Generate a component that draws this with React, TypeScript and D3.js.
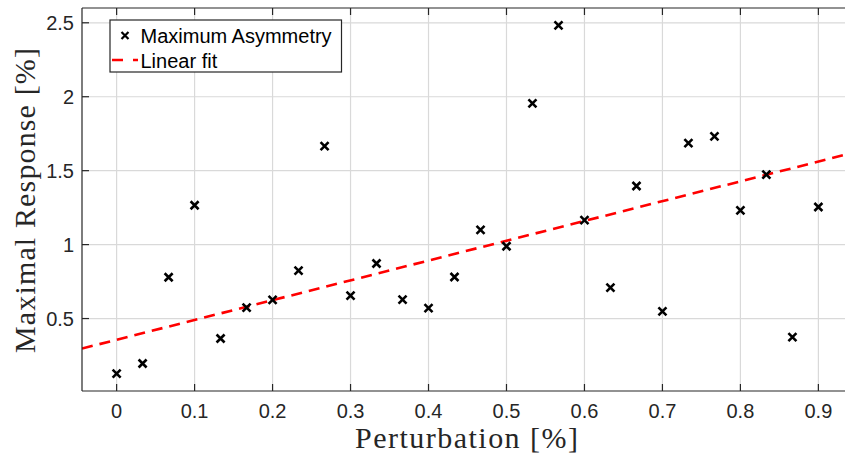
import { useMemo } from "react";
import { scaleLinear, line } from "d3";

const WIDTH = 845;
const HEIGHT = 454;
const PLOT = { left: 82, top: 8, right: 853, bottom: 391 };

const perturbation = [
  0, 0.0333, 0.0667, 0.1, 0.1333, 0.1667, 0.2, 0.2333, 0.2667, 0.3, 0.3333, 0.3667, 0.4, 0.4333,
  0.4667, 0.5, 0.5333, 0.5667, 0.6, 0.6333, 0.6667, 0.7, 0.7333, 0.7667, 0.8, 0.8333, 0.8667, 0.9
];
const maxAsymmetry = [
  0.128, 0.196, 0.779, 1.266, 0.365, 0.574, 0.626, 0.824, 1.666, 0.655, 0.872, 0.628, 0.57, 0.781,
  1.1, 0.989, 1.955, 2.482, 1.165, 0.709, 1.396, 0.549, 1.686, 1.732, 1.232, 1.473, 0.374, 1.254
];
// linear fit line as drawn in the figure (ends at the axis limits)
const fitX = [-0.0444, 0.9444];
const fitY = [0.297, 1.621];

const xTicks = [0, 0.1, 0.2, 0.3, 0.4, 0.5, 0.6, 0.7, 0.8, 0.9];
const yTicks = [0.5, 1, 1.5, 2, 2.5];
const xDomain = [-0.0444, 0.9444];
const yDomain = [0.01, 2.6];

const TICK_FONT = "Liberation Sans, Arial, sans-serif";
const LABEL_FONT = "Liberation Serif, Times New Roman, serif";

function Cross({ x, y, size = 4, width = 2.6 }: { x: number; y: number; size?: number; width?: number }) {
  return (
    <path
      d={`M${x - size},${y - size}L${x + size},${y + size}M${x - size},${y + size}L${x + size},${y - size}`}
      stroke="#000"
      strokeWidth={width}
      fill="none"
    />
  );
}

export default function App() {
  const x = useMemo(() => scaleLinear().domain(xDomain).range([PLOT.left, PLOT.right]), []);
  const y = useMemo(() => scaleLinear().domain(yDomain).range([PLOT.bottom, PLOT.top]), []);

  const fitPath = line<number>()
    .x((d) => x(d))
    .y((_, i) => y(fitY[i]))(fitX);

  return (
    <svg
      width={WIDTH}
      height={HEIGHT}
      style={{ position: "absolute", left: 0, top: 0, background: "#fff" }}
    >
      <defs>
        <clipPath id="plot-clip">
          <rect x={PLOT.left} y={PLOT.top} width={PLOT.right - PLOT.left} height={PLOT.bottom - PLOT.top} />
        </clipPath>
      </defs>
      <rect x={0} y={0} width={WIDTH} height={HEIGHT} fill="#fff" />

      {/* grid */}
      {xTicks.map((t) => (
        <line key={`gx${t}`} x1={x(t)} x2={x(t)} y1={PLOT.top} y2={PLOT.bottom} stroke="#d9d9d9" strokeWidth={1.2} />
      ))}
      {yTicks.map((t) => (
        <line key={`gy${t}`} x1={PLOT.left} x2={PLOT.right} y1={y(t)} y2={y(t)} stroke="#d9d9d9" strokeWidth={1.2} />
      ))}

      <g clipPath="url(#plot-clip)">
        <path d={fitPath ?? ""} stroke="#ff0000" strokeWidth={2.6} strokeDasharray="11,7" fill="none" />
        {perturbation.map((px, i) => (
          <Cross key={i} x={x(px)} y={y(maxAsymmetry[i])} />
        ))}
      </g>

      {/* axes */}
      <g stroke="#262626" strokeWidth={1.2} fill="none">
        <line x1={PLOT.left} x2={PLOT.right} y1={PLOT.bottom} y2={PLOT.bottom} />
        <line x1={PLOT.left} x2={PLOT.right} y1={PLOT.top} y2={PLOT.top} />
        <line x1={PLOT.left} x2={PLOT.left} y1={PLOT.top} y2={PLOT.bottom} />
        {xTicks.map((t) => (
          <g key={`tx${t}`}>
            <line x1={x(t)} x2={x(t)} y1={PLOT.bottom} y2={PLOT.bottom - 7} />
            <line x1={x(t)} x2={x(t)} y1={PLOT.top} y2={PLOT.top + 7} />
          </g>
        ))}
        {yTicks.map((t) => (
          <line key={`ty${t}`} x1={PLOT.left} x2={PLOT.left + 7} y1={y(t)} y2={y(t)} />
        ))}
      </g>

      {/* tick labels */}
      <g fontFamily={TICK_FONT} fontSize={20} fill="#262626">
        {xTicks.map((t) => (
          <text key={`lx${t}`} x={x(t)} y={PLOT.bottom + 27} textAnchor="middle">
            {t}
          </text>
        ))}
        {yTicks.map((t) => (
          <text key={`ly${t}`} x={PLOT.left - 8} y={y(t) + 7} textAnchor="end">
            {t}
          </text>
        ))}
      </g>

      {/* axis titles */}
      <text
        x={466.5}
        y={448}
        textAnchor="middle"
        fontFamily={LABEL_FONT}
        fontSize={30}
        fill="#262626"
        textLength={223}
        lengthAdjust="spacing"
      >
        Perturbation [%]
      </text>
      <text
        transform={`translate(35, 200.5) rotate(-90)`}
        textAnchor="middle"
        fontFamily={LABEL_FONT}
        fontSize={30}
        fill="#262626"
        textLength={305}
        lengthAdjust="spacing"
      >
        Maximal Response [%]
      </text>

      {/* legend */}
      <g>
        <rect x={110} y={20} width={231.5} height={52} fill="#fff" stroke="#262626" strokeWidth={1.2} />
        <Cross x={125} y={35.5} size={3.5} width={2.2} />
        <line x1={112} x2={138} y1={60} y2={60} stroke="#ff0000" strokeWidth={2.6} strokeDasharray="11,10" />
        <g fontFamily={TICK_FONT} fontSize={20} fill="#000">
          <text x={140.5} y={43}>Maximum Asymmetry</text>
          <text x={140.5} y={68}>Linear fit</text>
        </g>
      </g>
    </svg>
  );
}
